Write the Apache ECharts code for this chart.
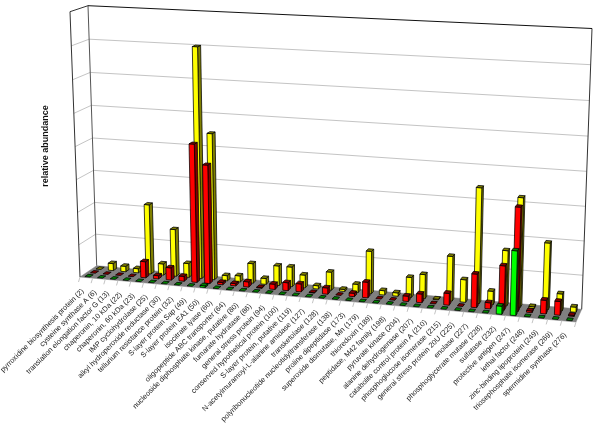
<!DOCTYPE html>
<html><head><meta charset="utf-8">
<style>html,body{margin:0;padding:0;background:#fff}#c{width:600px;height:426px}</style>
<script src="https://cdn.jsdelivr.net/npm/echarts@6/dist/echarts.min.js"></script>
</head><body><div id="c"></div>
<script>
const categories = ["pyrroxidine biosynthesis protein (2)","cysteine synthase A (6)","translation elongation factor G (13)","chaperonin, 10 kDa (22)","chaperonin, 60 kDa (23)","IMP cyclohydrolase (25)","alkyl hydroperoxide reductase (30)","tellurium resistance protein (32)","S-layer protein Sap (49)","S-layer protein EA1 (50)","isocitrate lyase (60)","oligopeptide ABC transporter (64)","nucleoside diphosphate kinase, putative (80)","fumarate hydratase (86)","general stress protein (94)","conserved hypothetical protein (100)","S-layer protein, putative (119)","N-acetylmuramoyl-L-alanine amidase (127)","transketolase (128)","polyribonucleotide nucleotidyltransferase (138)","proline dipeptidase (173)","superoxide dismutase, Mn (179)","thioredoxin (189)","peptidase, M42 family (198)","pyruvate kinase (204)","alanine dehydrogenase (207)","catabolite control protein A (210)","phosphoglucose isomerase (215)","general stress protein 20U (225)","enolase (227)","phosphoglycerate mutase (228)","sulfatase (232)","protective antigen (247)","lethal factor (248)","zinc-binding lipoprotein (249)","triosephosphate isomerase (269)","spermidine synthase (276)"];
const yellowValues = [0,.22,.17,.13,2.15,.35,1.45,.43,7,4.45,.16,.19,.6,.18,.6,.6,.39,.1,.55,.06,.25,1.28,.13,.1,.6,.72,.02,1.33,.67,3.4,.4,1.63,3.2,.05,1.95,.5,.15];
const redValues = [0,0,0,0,.5,.1,.38,.15,4.2,3.6,.07,.07,.16,.02,.16,.24,.24,.01,.19,0,.1,.47,0,0,.16,.26,0,.35,0,.99,.18,1.3,3.03,.05,.4,.4,.03];
const greenValues = [0,0,0,0,0,0,0,0,0,.05,0,0,0,0,0,0,0,0,0,0,0,0,0,0,0,0,0,0,0,0,0,.24,1.88,0,0,0,0];
const wallTicks = [1,2,3,4,5,6,7];
const yMax = 8;

const W = 600, H = 426;
const FLB=[80,277], FRB=[576,322], BLB=[96.7,265.7], BRB=[581.7,309.3];
const FLT=[70,11.7], FRT=[585.5,36], BLT=[88,5.7], BRT=[592,28.5];
const lerp=(a,b,t)=>[a[0]+(b[0]-a[0])*t,a[1]+(b[1]-a[1])*t];
const warpU=u=>u+0.06*u*(u-1);
const warpW=w=>w+0.035*w*(w-1);
function proj3(u,d,w){
  const uu=warpU(u), ww=warpW(w);
  const floor=lerp(lerp(FLB,FRB,uu),lerp(BLB,BRB,uu),d);
  const top=lerp(lerp(FLT,FRT,uu),lerp(BLT,BRT,uu),d);
  return lerp(floor,top,ww);
}
function pr(pt,d){ return proj3(pt[0]/W,d,(H-pt[1])/H); }

const barW=0.4, barD=0.2;
function barItem(row,face,dark){
  return function(params,api){
    const i=api.value(0), v=api.value(1);
    const base=api.coord([i,0]), top=api.coord([i,v]);
    const bw=api.size([1,0])[0]*barW/2;
    const d0=row-barD/2,d1=row+barD/2;
    const P=(dx,y,d)=>pr([base[0]+dx,y],d);
    const line={stroke:'#000',lineWidth:0.75,lineJoin:'round'};
    const poly=(pts,fill)=>({type:'polygon',shape:{points:pts},style:Object.assign({fill},line)});
    const children=[];
    if(v>0){
      children.push(poly([P(bw,base[1],d0),P(bw,base[1],d1),P(bw,top[1],d1),P(bw,top[1],d0)],dark));
      children.push(poly([P(-bw,base[1],d0),P(bw,base[1],d0),P(bw,top[1],d0),P(-bw,top[1],d0)],face));
    }
    children.push(poly([P(-bw,top[1],d0),P(bw,top[1],d0),P(bw,top[1],d1),P(-bw,top[1],d1)],dark));
    return {type:'group',children};
  };
}
function mk(vals){return vals.map((v,i)=>[i,v]);}
const wallLine={stroke:'#c4c4c4',lineWidth:1};
const seg=(a,b,style)=>({type:'line',shape:{x1:a[0],y1:a[1],x2:b[0],y2:b[1]},style});

const option={
  animation:false,
  backgroundColor:'#fff',
  grid:{left:0,right:0,top:0,bottom:0},
  xAxis:{type:'category',data:categories,show:false},
  yAxis:{type:'value',min:0,max:yMax,interval:1,show:false},
  graphic:[{type:'text',x:46,y:146,rotation:Math.PI/2,style:{text:'relative abundance',align:'center',verticalAlign:'middle',font:'bold 9px "Liberation Sans", Arial',fill:'#111'}}],
  series:[
    {type:'custom',silent:true,clip:false,z:1,data:wallTicks.map(v=>[0,v]),renderItem(p,api){
      const y=api.coord([0,api.value(1)])[1];
      const w=(H-y)/H;
      return {type:'group',children:[seg(proj3(0,1,w),proj3(1,1,w),wallLine),seg(proj3(0,0,w),proj3(0,1,w),wallLine)]};
    }},
    {type:'custom',silent:true,clip:false,z:2,data:[[0,yMax]],renderItem(p,api){
      const y=api.coord([0,yMax])[1];
      const w=(H-y)/H;
      const dk={stroke:'#333',lineWidth:1};
      return {type:'group',children:[
        {type:'polygon',shape:{points:[proj3(0,0,0),proj3(1,0,0),proj3(1,1,0),proj3(0,1,0)]},style:{fill:'#808080',stroke:'#808080',lineWidth:.5}},
        seg(proj3(0,0,0),proj3(0,0,w),dk),seg(proj3(0,1,0),proj3(0,1,w),{stroke:'#555',lineWidth:1}),
        seg(proj3(1,1,0),proj3(1,1,w),dk),seg(proj3(0,0,w),proj3(0,1,w),dk),seg(proj3(0,1,w),proj3(1,1,w),{stroke:'#111',lineWidth:1})
      ]};
    }},
    {type:'custom',silent:true,clip:false,z:3,data:categories.map((c,i)=>[i,0]),renderItem(p,api){
      const i=api.value(0);
      const c=api.coord([i,0]), bw=api.size([1,0])[0];
      const center=pr(c,0);
      const t=pr([c[0]-bw/2,c[1]],0);
      const kids=[seg(t,[t[0]-1.5,t[1]+5],{stroke:'#c4c4c4',lineWidth:1})];
      if(i===categories.length-1){const e=pr([c[0]+bw/2,c[1]],0);kids.push(seg(e,[e[0]-1.5,e[1]+5],{stroke:'#c4c4c4',lineWidth:1}));}
      kids.push({type:'text',x:center[0]-3.5,y:center[1]+12.5,rotation:Math.PI/4,style:{text:categories[i],align:'right',verticalAlign:'middle',font:'7.4px "Liberation Sans", Arial',fill:'#222'}});
      return {type:'group',children:kids};
    }},
    {type:'custom',name:'yellow',silent:true,clip:false,z:4,data:mk(yellowValues),renderItem:barItem(5/6,'#ffff00','#808000')},
    {type:'custom',name:'red',silent:true,clip:false,z:5,data:mk(redValues),renderItem:barItem(1/2,'#ff0000','#800000')},
    {type:'custom',name:'green',silent:true,clip:false,z:6,data:mk(greenValues),renderItem:barItem(1/6,'#00ff00','#008000')}
  ]
};
echarts.init(document.getElementById('c'),null,{renderer:'canvas'}).setOption(option);
</script></body></html>
